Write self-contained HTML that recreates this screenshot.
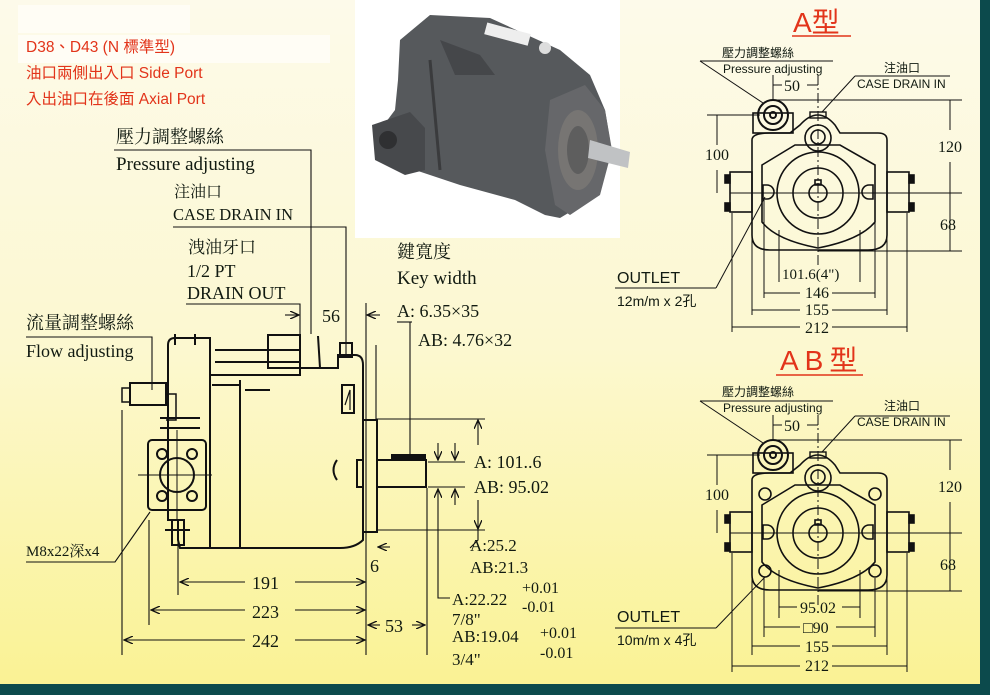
<!DOCTYPE html>
<html><head><meta charset="utf-8"><style>
html,body{margin:0;padding:0;}
body{width:990px;height:695px;overflow:hidden;}
svg{display:block;}
.s{font-family:"Liberation Serif","Noto Serif CJK SC",serif;fill:#111a11;}
.a{font-family:"Liberation Sans","Noto Sans CJK TC",sans-serif;fill:#111a11;}
.r{font-family:"Liberation Sans","Noto Sans CJK TC",sans-serif;fill:#e2341a;}
</style></head><body>
<svg width="990" height="695" viewBox="0 0 990 695" xmlns="http://www.w3.org/2000/svg">
<defs>
<linearGradient id="bg" x1="0" y1="0" x2="0" y2="1">
<stop offset="0" stop-color="#fdfaea"/><stop offset="0.5" stop-color="#fcf8d0"/><stop offset="1" stop-color="#faf292"/>
</linearGradient>
<marker id="ar" markerWidth="10" markerHeight="8" refX="9" refY="4" orient="auto" markerUnits="userSpaceOnUse"><path d="M0,0 L9,4 L0,8" fill="none" stroke="#111" stroke-width="1.3"/></marker>
<g id="front" fill="none" stroke="#111" stroke-width="1.6">
 <path d="M752,140 L752,235 Q752,250 770,250 L868,250 Q887,250 887,235 L887,140 Q887,133 878,133 L840,133 L835,125 Q818,105 800,125 L790,133 L770,133 Q752,133 752,140Z"/>
 <path d="M762,165 L795,145 L840,145 L875,165 L875,222 Q860,240 818,248 Q776,240 762,222Z"/>
 <rect x="730" y="172" width="22" height="40"/><rect x="887" y="172" width="22" height="40"/>
 <rect x="725" y="175" width="5" height="8" fill="#111"/><rect x="725" y="203" width="5" height="8" fill="#111"/>
 <rect x="909" y="175" width="5" height="8" fill="#111"/><rect x="909" y="203" width="5" height="8" fill="#111"/>
 <circle cx="818" cy="193" r="41"/><circle cx="818" cy="193" r="25"/><circle cx="818" cy="193" r="9"/>
 <rect x="815" y="180" width="6" height="5"/>
 <path d="M763,185 L767,185 A7,7 0 0 1 767,199 L763,199Z"/><path d="M873,185 L869,185 A7,7 0 0 0 869,199 L873,199Z"/>
 <rect x="753" y="113" width="40" height="20"/>
 <circle cx="773" cy="115" r="15" stroke-width="2"/><circle cx="773" cy="115" r="9" stroke-width="2"/><circle cx="773" cy="115" r="3" stroke-width="2"/>
 <circle cx="818" cy="138" r="13"/><circle cx="818" cy="137" r="7"/>
 <rect x="810" y="112" width="16" height="6" stroke-width="1.4"/>
 <line x1="818" y1="75" x2="818" y2="265" stroke-width="1" stroke-dasharray="10,3,2,3"/>
 <line x1="730" y1="193" x2="962" y2="193" stroke-width="1"/>
 <line x1="773" y1="75" x2="773" y2="100" stroke-width="1"/>
 <line x1="773" y1="85" x2="782" y2="85" stroke-width="1"/><line x1="807" y1="85" x2="818" y2="85" stroke-width="1"/>
 <line x1="775" y1="100" x2="962" y2="100" stroke-width="1"/>
 <line x1="818" y1="251" x2="962" y2="251" stroke-width="1"/>
 <line x1="950" y1="100" x2="950" y2="130" stroke-width="1"/><line x1="950" y1="162" x2="950" y2="251" stroke-width="1"/>
 <line x1="707" y1="115" x2="760" y2="115" stroke-width="1"/>
 <line x1="717" y1="115" x2="717" y2="145" stroke-width="1"/><line x1="717" y1="170" x2="717" y2="193" stroke-width="1"/>
 <line x1="700" y1="61" x2="833" y2="61" stroke-width="1"/><line x1="700" y1="61" x2="763" y2="103" stroke-width="1"/>
 <line x1="855" y1="76" x2="950" y2="76" stroke-width="1"/><line x1="855" y1="76" x2="822" y2="112" stroke-width="1"/>
 <line x1="615" y1="288" x2="716" y2="288" stroke-width="1"/>
 <line x1="732" y1="213" x2="732" y2="332" stroke-width="1"/><line x1="907" y1="213" x2="907" y2="332" stroke-width="1"/>
 <line x1="752" y1="230" x2="752" y2="315" stroke-width="1"/><line x1="887" y1="230" x2="887" y2="315" stroke-width="1"/>
</g>
</defs>
<rect width="990" height="695" fill="url(#bg)"/>
<rect x="18" y="5" width="172" height="28" fill="#fffdf5"/>
<rect x="18" y="35" width="312" height="28" fill="#fffdf5"/>
<rect x="355" y="0" width="265" height="238" fill="#ffffff"/>
<rect x="980" y="0" width="10" height="695" fill="#0c4a4c"/>
<rect x="0" y="684" width="990" height="11" fill="#0c4a4c"/>

<!-- photo pump -->
<g>
<path d="M400,40 L430,15 L490,18 L560,50 L590,75 L605,110 L610,140 L605,175 L590,200 L560,218 L545,215 L515,200 L460,185 L430,175 L385,160 L380,130 L395,110 L398,80Z" fill="#56595c"/>
<path d="M372,125 L410,112 L425,128 L425,170 L405,175 L375,160Z" fill="#47494c"/>
<circle cx="388" cy="140" r="9" fill="#2f3032"/>
<path d="M440,40 L480,55 L495,75 L455,75Z" fill="#45474a"/>
<path d="M430,60 L440,170" stroke="#3a3b3d" stroke-width="3"/>
<path d="M550,100 L585,85 L605,110 L612,150 L600,195 L570,215 L555,205 L545,150Z" fill="#66676a"/>
<ellipse cx="578" cy="150" rx="20" ry="40" fill="#777573"/>
<ellipse cx="578" cy="150" rx="11" ry="24" fill="#5e5e5e"/>
<path d="M590,140 L630,152 L628,168 L588,158Z" fill="#c0c2c4"/>
<rect x="485" y="28" width="45" height="12" fill="#eeeeee" transform="rotate(15 507 34)"/>
<circle cx="545" cy="48" r="6" fill="#ddd"/>
</g>

<!-- red titles -->
<text class="r" x="26" y="52" font-size="15.5">D38、D43 (N 標準型)</text>
<text class="r" x="26" y="78" font-size="15.5">油口兩側出入口 Side Port</text>
<text class="r" x="26" y="104" font-size="15.5">入出油口在後面 Axial Port</text>

<!-- side view labels -->
<g class="s">
<text x="116" y="143" font-size="18">壓力調整螺絲</text>
<text x="116" y="170" font-size="19">Pressure adjusting</text>
<text x="174" y="197" font-size="16">注油口</text>
<text x="173" y="220" font-size="16.5" textLength="120">CASE DRAIN IN</text>
<text x="188" y="253" font-size="17">洩油牙口</text>
<text x="187" y="277" font-size="18">1/2 PT</text>
<text x="187" y="299" font-size="18">DRAIN OUT</text>
<text x="322" y="322" font-size="18">56</text>
<text x="26" y="329" font-size="18">流量調整螺絲</text>
<text x="26" y="357" font-size="18">Flow adjusting</text>
<text x="26" y="556" font-size="15">M8x22深x4</text>
<text x="397" y="258" font-size="18">鍵寬度</text>
<text x="397" y="284" font-size="19">Key  width</text>
<text x="397" y="317" font-size="18">A: 6.35×35</text>
<text x="418" y="346" font-size="18">AB: 4.76×32</text>
<text x="474" y="468" font-size="18">A: 101..6</text>
<text x="474" y="493" font-size="18">AB: 95.02</text>
<text x="470" y="551" font-size="17">A:25.2</text>
<text x="470" y="573" font-size="17">AB:21.3</text>
<text x="452" y="605" font-size="17">A:22.22</text>
<text x="522" y="593" font-size="16">+0.01</text>
<text x="522" y="612" font-size="16">-0.01</text>
<text x="452" y="625" font-size="17">7/8"</text>
<text x="452" y="642" font-size="17">AB:19.04</text>
<text x="540" y="638" font-size="16">+0.01</text>
<text x="540" y="658" font-size="16">-0.01</text>
<text x="452" y="665" font-size="17">3/4"</text>
<text x="252" y="589" font-size="18">191</text>
<text x="252" y="618" font-size="18">223</text>
<text x="252" y="647" font-size="18">242</text>
<text x="370" y="572" font-size="18">6</text>
<text x="385" y="632" font-size="18">53</text>
</g>

<g fill="none" stroke="#111" stroke-width="1.1">
<polyline points="114,150 311,150 311,334"/>
<polyline points="173,227 346,227 346,355"/>
<polyline points="186,304 300,304 300,340"/>
<polyline points="26,337 152,337 152,390"/>
<polyline points="26,562 115,562 150,512"/>
<line x1="285" y1="315" x2="299" y2="315" marker-end="url(#ar)"/>
<line x1="380" y1="315" x2="367" y2="315" marker-end="url(#ar)"/>
<line x1="366" y1="303" x2="366" y2="655"/>
<line x1="376" y1="345" x2="376" y2="420"/>
<line x1="397" y1="322" x2="412" y2="322"/>
<line x1="410" y1="322" x2="410" y2="458"/>
<line x1="178" y1="540" x2="178" y2="595"/>
<line x1="149" y1="520" x2="149" y2="625"/>
<line x1="122" y1="410" x2="122" y2="655"/>
<line x1="245" y1="582" x2="180" y2="582" marker-end="url(#ar)"/><line x1="295" y1="582" x2="365" y2="582" marker-end="url(#ar)"/>
<line x1="245" y1="610" x2="151" y2="610" marker-end="url(#ar)"/><line x1="295" y1="610" x2="365" y2="610" marker-end="url(#ar)"/>
<line x1="245" y1="640" x2="124" y2="640" marker-end="url(#ar)"/><line x1="295" y1="640" x2="365" y2="640" marker-end="url(#ar)"/>
<line x1="380" y1="625" x2="368" y2="625" marker-end="url(#ar)"/><line x1="412" y1="625" x2="425" y2="625" marker-end="url(#ar)"/>
<line x1="390" y1="547" x2="378" y2="547" marker-end="url(#ar)"/>
<line x1="427" y1="488" x2="427" y2="655"/>
<line x1="376" y1="419" x2="485" y2="419"/><line x1="376" y1="530" x2="485" y2="530"/>
<line x1="478" y1="445" x2="478" y2="420" marker-end="url(#ar)"/><line x1="478" y1="500" x2="478" y2="529" marker-end="url(#ar)"/>
<polyline points="478,529 478,540 470,548"/>
<line x1="428" y1="462" x2="465" y2="462"/><line x1="428" y1="487" x2="465" y2="487"/>
<line x1="438" y1="443" x2="438" y2="460" marker-end="url(#ar)"/><line x1="455" y1="443" x2="455" y2="460" marker-end="url(#ar)"/>
<line x1="438" y1="505" x2="438" y2="489" marker-end="url(#ar)"/><line x1="455" y1="505" x2="455" y2="489" marker-end="url(#ar)"/>
<polyline points="438,505 438,598 450,598"/>
</g>

<!-- side view body -->
<g fill="none" stroke="#111" stroke-width="2">
<path d="M168,345 Q168,338 175,338 L210,338 L210,548 L180,548 L178,540 L178,520 L168,520Z"/>
<path d="M210,375 L300,375 L300,368 L338,368 L338,355 L355,355 Q363,355 363,365 L363,420"/>
<path d="M210,548 L340,548 Q355,548 363,540 L363,530"/>
<path d="M240,380 L240,548"/>
<path d="M215,350 L300,350 L300,362 L215,362"/>
<path d="M268,335 L300,335 L300,368 L268,368 Z"/>
<path d="M318,336 L320,368"/><rect x="340" y="343" width="12" height="14"/>
<rect x="342" y="385" width="12" height="28"/>
<path d="M345,405 L350,390 L350,410" stroke-width="1.2"/>
<rect x="363" y="420" width="14" height="112"/>
<rect x="377" y="460" width="49" height="27"/>
<rect x="392" y="455" width="33" height="5" fill="#111"/>
<rect x="357" y="460" width="6" height="27"/>
<path d="M337,460 Q330,470 337,480"/>
<rect x="148" y="440" width="58" height="70" rx="4"/>
<circle cx="177" cy="475" r="17"/>
<circle cx="162" cy="454" r="5"/><circle cx="192" cy="454" r="5"/><circle cx="162" cy="496" r="5"/><circle cx="192" cy="496" r="5"/>
<line x1="138" y1="475" x2="212" y2="475" stroke-width="1"/><line x1="177" y1="430" x2="177" y2="520" stroke-width="1"/>
<rect x="130" y="383" width="36" height="22"/>
<path d="M122,388 L130,388 L130,402 L122,402Z" stroke-width="1.5"/>
<path d="M166,394 L176,394 L176,420 L166,420" stroke-width="1.5"/>
<line x1="160" y1="418" x2="200" y2="418"/><line x1="160" y1="428" x2="200" y2="428"/>
<rect x="172" y="520" width="12" height="25"/><line x1="165" y1="530" x2="190" y2="530"/>
<line x1="245" y1="390" x2="270" y2="390"/><line x1="212" y1="385" x2="240" y2="385"/>
<line x1="175" y1="334" x2="175" y2="345"/><line x1="195" y1="334" x2="195" y2="345"/>
</g>

<!-- A type -->
<text class="r" x="793" y="32" font-size="28">A型</text>
<line x1="792" y1="36" x2="851" y2="36" stroke="#e2341a" stroke-width="1.5"/>
<use href="#front"/>
<g class="a">
<text x="722" y="57" font-size="12">壓力調整螺絲</text>
<text x="723" y="73" font-size="12">Pressure adjusting</text>
<text x="884" y="72" font-size="12">注油口</text>
<text x="857" y="88" font-size="12">CASE DRAIN IN</text>
<text x="617" y="283" font-size="16">OUTLET</text>
<text x="617" y="306" font-size="14">12m/m x 2孔</text>
</g>
<g class="s" font-size="16">
<text x="784" y="91">50</text>
<text x="705" y="160">100</text>
<text x="938" y="152">120</text>
<text x="940" y="230">68</text>
<text x="782" y="279" font-size="15">101.6(4")</text>
<text x="805" y="298">146</text>
<text x="805" y="315">155</text>
<text x="805" y="333">212</text>
</g>
<g stroke="#111" stroke-width="1" fill="none">
<polyline points="716,288 765,197"/>
<line x1="779" y1="230" x2="779" y2="282"/><line x1="860" y1="230" x2="860" y2="282"/>
<line x1="764" y1="200" x2="764" y2="298"/><line x1="875" y1="200" x2="875" y2="298"/>
<line x1="764" y1="293" x2="800" y2="293"/><line x1="832" y1="293" x2="875" y2="293"/>
<line x1="752" y1="310" x2="800" y2="310"/><line x1="832" y1="310" x2="887" y2="310"/>
<line x1="732" y1="327" x2="800" y2="327"/><line x1="832" y1="327" x2="907" y2="327"/>
</g>

<!-- AB type -->
<text class="r" x="780" y="370" font-size="28" letter-spacing="6">AB型</text>
<line x1="776" y1="375" x2="863" y2="375" stroke="#e2341a" stroke-width="1.5"/>
<use href="#front" transform="translate(0,340)"/>
<g fill="none" stroke="#111" stroke-width="1.6">
<circle cx="765" cy="494" r="6"/><circle cx="875" cy="494" r="6"/><circle cx="765" cy="571" r="6"/><circle cx="875" cy="571" r="6"/>
</g>
<g class="a">
<text x="722" y="396" font-size="12">壓力調整螺絲</text>
<text x="723" y="412" font-size="12">Pressure adjusting</text>
<text x="884" y="410" font-size="12">注油口</text>
<text x="857" y="426" font-size="12">CASE DRAIN IN</text>
<text x="617" y="622" font-size="16">OUTLET</text>
<text x="617" y="645" font-size="14">10m/m x 4孔</text>
</g>
<g class="s" font-size="16">
<text x="784" y="431">50</text>
<text x="705" y="500">100</text>
<text x="938" y="492">120</text>
<text x="940" y="570">68</text>
<text x="800" y="613">95.02</text>
<text x="803" y="633">□90</text>
<text x="805" y="652">155</text>
<text x="805" y="671">212</text>
</g>
<g stroke="#111" stroke-width="1" fill="none">
<polyline points="716,628 765,577"/>
<line x1="779" y1="570" x2="779" y2="618"/><line x1="860" y1="570" x2="860" y2="618"/>
<line x1="764" y1="578" x2="764" y2="637"/><line x1="875" y1="578" x2="875" y2="637"/>
<line x1="779" y1="607" x2="797" y2="607"/><line x1="842" y1="607" x2="860" y2="607"/>
<line x1="764" y1="627" x2="800" y2="627"/><line x1="836" y1="627" x2="875" y2="627"/>
<line x1="752" y1="646" x2="800" y2="646"/><line x1="832" y1="646" x2="887" y2="646"/>
<line x1="732" y1="666" x2="800" y2="666"/><line x1="832" y1="666" x2="907" y2="666"/>
</g>
</svg>
</body></html>
